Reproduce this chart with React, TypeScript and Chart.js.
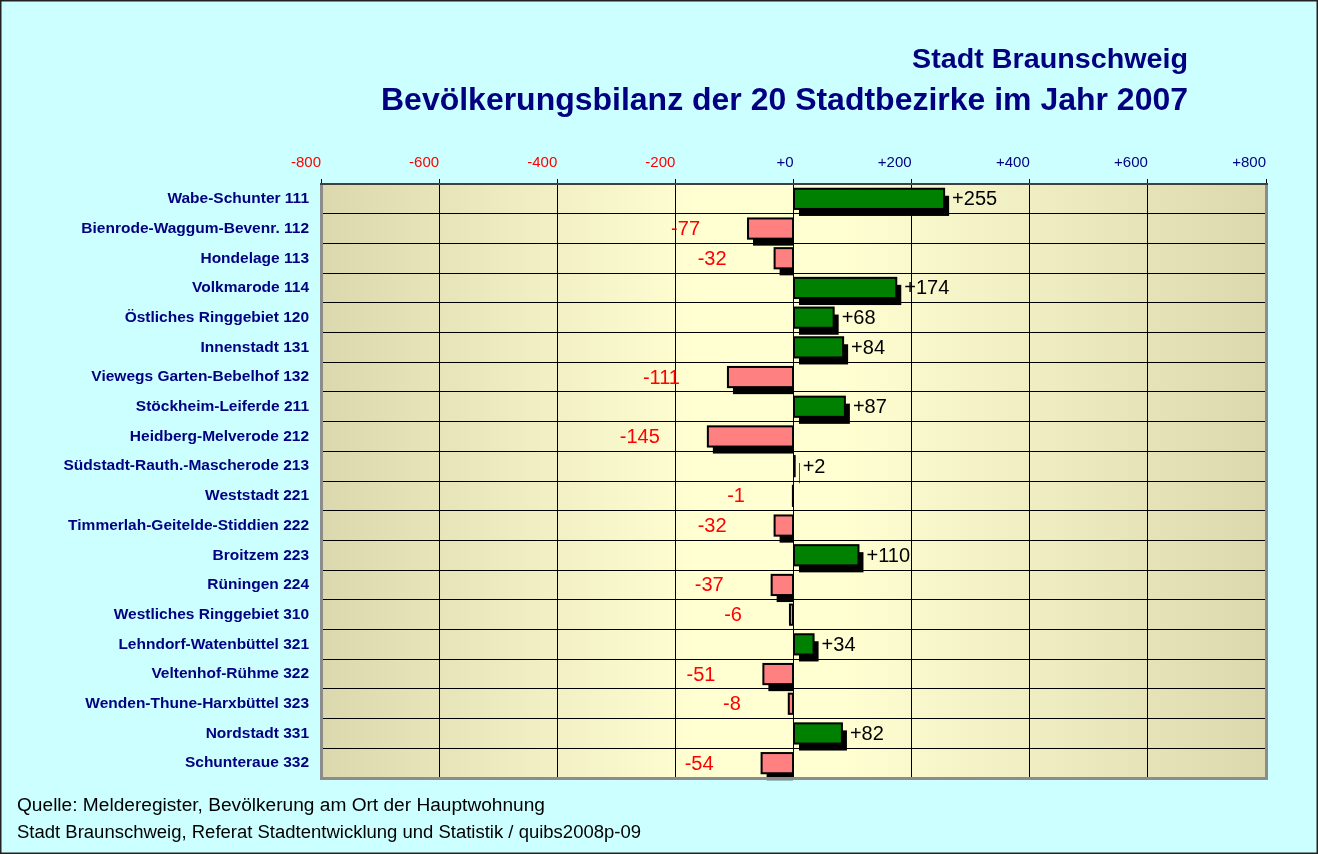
import React, { useEffect, useRef } from "react";
import { Chart, registerables } from "chart.js";

Chart.register(...registerables);

const districts = [
  "Wabe-Schunter 111",
  "Bienrode-Waggum-Bevenr. 112",
  "Hondelage 113",
  "Volkmarode 114",
  "Östliches Ringgebiet 120",
  "Innenstadt 131",
  "Viewegs Garten-Bebelhof 132",
  "Stöckheim-Leiferde 211",
  "Heidberg-Melverode 212",
  "Südstadt-Rauth.-Mascherode 213",
  "Weststadt 221",
  "Timmerlah-Geitelde-Stiddien 222",
  "Broitzem 223",
  "Rüningen 224",
  "Westliches Ringgebiet 310",
  "Lehndorf-Watenbüttel 321",
  "Veltenhof-Rühme 322",
  "Wenden-Thune-Harxbüttel 323",
  "Nordstadt 331",
  "Schunteraue 332",
];

const balance = [255, -77, -32, 174, 68, 84, -111, 87, -145, 2, -1, -32, 110, -37, -6, 34, -51, -8, 82, -54];

const axisMin = -800;
const axisMax = 800;
const axisStep = 200;

const titleLine1 = "Stadt Braunschweig";
const titleLine2 = "Bevölkerungsbilanz der 20 Stadtbezirke im Jahr 2007";
const footerLine1 = "Quelle: Melderegister, Bevölkerung am Ort der Hauptwohnung";
const footerLine2 = "Stadt Braunschweig, Referat Stadtentwicklung und Statistik / quibs2008p-09";

const NAVY = "#000080";
const RED = "#FF0000";
const BG = "#CCFFFF";
const GREEN = "#008000";
const PINK = "#FF8080";
const FONT = "'Liberation Sans', Arial, sans-serif";

function drawFitted(ctx: CanvasRenderingContext2D, text: string, font: string, color: string, x: number, y: number, width: number, align: "left" | "right") {
  ctx.save();
  ctx.font = font;
  ctx.fillStyle = color;
  ctx.textBaseline = "middle";
  ctx.textAlign = "left";
  const w = ctx.measureText(text).width;
  const sx = width / w;
  const left = align === "left" ? x : x - width;
  ctx.translate(left, y);
  ctx.scale(sx, 1);
  ctx.fillText(text, 0, 0);
  ctx.restore();
}

const decorPlugin = {
  id: "decor",
  beforeDraw(chart: any) {
    const { ctx, chartArea: a, width, height } = chart;
    ctx.save();
    ctx.fillStyle = BG;
    ctx.fillRect(0, 0, width, height);
    const g = ctx.createLinearGradient(a.left, 0, a.right, 0);
    g.addColorStop(0, "#DCD8AE");
    g.addColorStop(0.4, "#FFFFD2");
    g.addColorStop(0.55, "#FFFFD2");
    g.addColorStop(1, "#DCD8AE");
    ctx.fillStyle = g;
    ctx.fillRect(a.left, a.top, a.right - a.left, a.bottom - a.top);
    ctx.restore();
  },
  beforeDatasetsDraw(chart: any) {
    const { ctx } = chart;
    const meta = chart.getDatasetMeta(0);
    ctx.save();
    ctx.fillStyle = "#000000";
    meta.data.forEach((bar: any, i: number) => {
      const v = balance[i];
      const left = Math.min(bar.x, bar.base);
      const right = Math.max(bar.x, bar.base);
      const top = bar.y - bar.height / 2;
      const dx = 5;
      const dy = 7;
      const sLeft = left + dx;
      const sRight = v >= 0 ? right + dx : right;
      if (sRight - sLeft > 0) ctx.fillRect(sLeft, top + dy, sRight - sLeft, bar.height);
    });
    ctx.restore();
  },
  afterDatasetsDraw(chart: any) {
    const { ctx } = chart;
    const meta = chart.getDatasetMeta(0);
    ctx.save();
    // outlines
    ctx.strokeStyle = "#000000";
    ctx.lineWidth = 2;
    meta.data.forEach((bar: any) => {
      const left = Math.min(bar.x, bar.base);
      const right = Math.max(bar.x, bar.base);
      const top = bar.y - bar.height / 2;
      ctx.strokeRect(left, top, right - left, bar.height);
    });
    // value labels
    ctx.font = `20px ${FONT}`;
    ctx.textBaseline = "middle";
    meta.data.forEach((bar: any, i: number) => {
      const v = balance[i];
      if (v >= 0) {
        ctx.fillStyle = "#000000";
        ctx.textAlign = "left";
        ctx.fillText("+" + v, Math.max(bar.x, bar.base) + 8, bar.y + 1);
      } else {
        ctx.fillStyle = RED;
        ctx.textAlign = "right";
        ctx.fillText(String(v), bar.x - 48, bar.y + 1);
      }
    });
    ctx.restore();
  },
  afterDraw(chart: any) {
    const { ctx, chartArea: a, width, height } = chart;
    ctx.save();
    // plot frame
    ctx.fillStyle = "#8C8C8C";
    ctx.fillRect(a.left - 1, a.top, 3, a.bottom - a.top + 2);
    ctx.fillRect(a.right - 1, a.top, 3, a.bottom - a.top + 2);
    ctx.fillRect(a.left - 1, a.bottom - 1, a.right - a.left + 3, 3);
    ctx.fillStyle = "#404040";
    ctx.fillRect(a.left - 1, a.top - 1, a.right - a.left + 3, 2);
    // titles
    drawFitted(ctx, titleLine1, `bold 28px ${FONT}`, NAVY, 1188, 60, 276, "right");
    drawFitted(ctx, titleLine2, `bold 32px ${FONT}`, NAVY, 1188, 101, 807, "right");
    // footer
    drawFitted(ctx, footerLine1, `18px ${FONT}`, "#000000", 17, 806, 528, "left");
    drawFitted(ctx, footerLine2, `18px ${FONT}`, "#000000", 17, 833, 624, "left");
    // outer border
    ctx.strokeStyle = "#222222";
    ctx.lineWidth = 1.5;
    ctx.strokeRect(0.75, 0.75, width - 1.5, height - 1.5);
    ctx.restore();
  },
};

export default function App() {
  const canvasRef = useRef<HTMLCanvasElement | null>(null);

  useEffect(() => {
    if (!canvasRef.current) return;
    const chart = new Chart(canvasRef.current, {
      type: "bar",
      data: {
        labels: districts,
        datasets: [
          {
            data: balance,
            backgroundColor: balance.map((v) => (v >= 0 ? GREEN : PINK)),
            borderWidth: 0,
            barPercentage: 0.68,
            categoryPercentage: 1,
          },
        ],
      },
      options: {
        indexAxis: "y",
        animation: false,
        responsive: false,
        maintainAspectRatio: false,
        layout: { padding: { top: 144, right: 52, bottom: 76, left: 0 } },
        plugins: {
          legend: { display: false },
          tooltip: { enabled: false },
          title: { display: false },
        },
        scales: {
          x: {
            position: "top",
            min: axisMin,
            max: axisMax,
            ticks: {
              stepSize: axisStep,
              callback: (v: any) => (Number(v) >= 0 ? "+" : "") + v,
              color: (c: any) => (c.tick && c.tick.value < 0 ? RED : NAVY),
              font: { family: FONT, size: 15 },
              padding: 7,
              align: "end",
              maxRotation: 0,
            },
            grid: { color: "#000000", lineWidth: 1, tickLength: 5, tickColor: "#000000" },
            border: { display: false },
            afterFit: (s: any) => {
              s.height = 40;
            },
          },
          y: {
            ticks: {
              color: NAVY,
              font: { family: FONT, size: 15.5, weight: "bold" },
              padding: 12,
              autoSkip: false,
            },
            grid: { color: "#000000", lineWidth: 1, offset: true, drawTicks: false },
            border: { display: false },
            afterFit: (s: any) => {
              s.width = 321;
            },
          },
        },
      },
      plugins: [decorPlugin],
    });
    return () => chart.destroy();
  }, []);

  return (
    <div style={{ position: "absolute", left: 0, top: 0, width: 1318, height: 854 }}>
      <canvas ref={canvasRef} width={1318} height={854} style={{ display: "block" }} />
    </div>
  );
}
